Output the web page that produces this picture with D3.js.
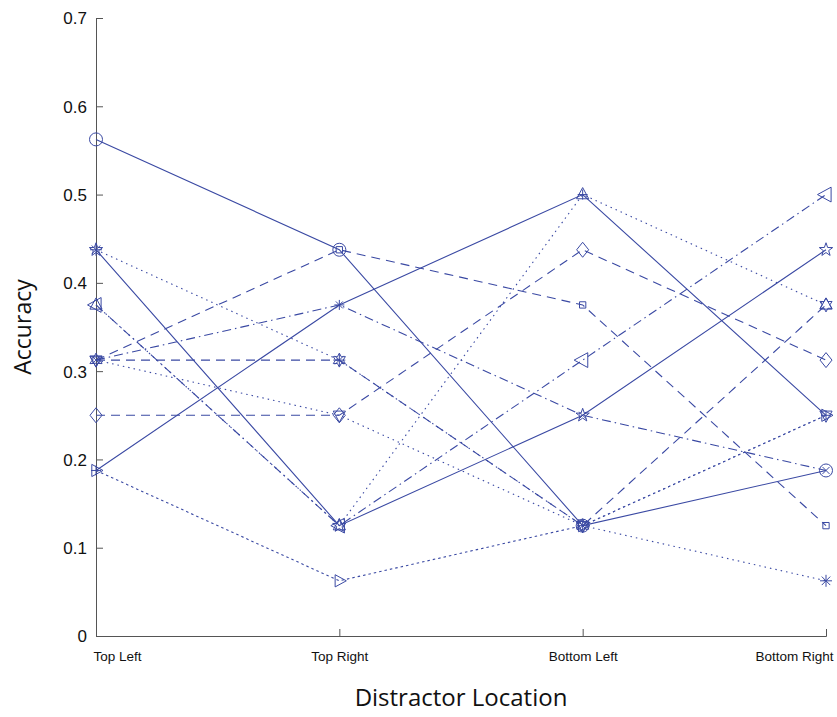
<!DOCTYPE html>
<html lang="en">
<head>
<meta charset="UTF-8">
<title>Accuracy by Distractor Location</title>
<script src="https://d3js.org/d3.v7.min.js"></script>
<style>
    body { margin: 0; background: #fff; }
    svg { display: block; font-family: "Open Sans", "Noto Sans", sans-serif; }
    .axis path, .axis line { stroke: #555; }
</style>
</head>
<body>
<svg id="chart" width="837" height="717"></svg>
<script>
    const categories = ["Top Left", "Top Right", "Bottom Left", "Bottom Right"];
    const yTicks = [0, 0.1, 0.2, 0.3, 0.4, 0.5, 0.6, 0.7];

    // one row per subject: value at each distractor location
    const s1 = [0.5625, 0.4375, 0.125, 0.1875];
    const s2 = [0.4375, 0.125, 0.25, 0.4375];
    const s3 = [0.1875, 0.375, 0.5, 0.25];
    const s4 = [0.4375, 0.3125, 0.125, 0.0625];
    const s5 = [0.3125, 0.4375, 0.375, 0.125];
    const s6 = [0.25, 0.25, 0.4375, 0.3125];
    const s7 = [0.375, 0.125, 0.3125, 0.5];
    const s8 = [0.3125, 0.375, 0.25, 0.1875];
    const s9 = [0.3125, 0.3125, 0.125, 0.375];
    const s10 = [0.3125, 0.25, 0.125, 0.25];
    const s11 = [0.1875, 0.0625, 0.125, 0.25];
    const s12 = [0.375, 0.125, 0.5, 0.375];
    const series = [s1, s2, s3, s4, s5, s6, s7, s8, s9, s10, s11, s12];
    const markers = ["o", "p", "+", "*", "s", "d", "<", "x", "h", "v", ">", "^"];
    const lineStyles = ["-", "-", "-", ":", "--", "--", "-.", "-.", "--", ":", "::", ":"];

    const color = "#3a49a3";
    const svg = d3.select("#chart");
    const margin = { left: 96, right: 11, top: 18, bottom: 81 };
    const W = 837, H = 717;

    const x = d3.scalePoint().domain(categories).range([margin.left, W - margin.right]);
    const y = d3.scaleLinear().domain([0, 0.7]).range([H - margin.bottom, margin.top]);

    // axes (ticks pointing inward like matlab)
    const yAxis = svg.append("g").attr("class", "axis")
        .attr("transform", `translate(${margin.left},0)`)
        .call(d3.axisRight(y).tickValues(yTicks).tickSize(7).tickFormat(""));
    yAxis.selectAll(".tick").append("text")
        .attr("x", -9).attr("dy", "0.35em")
        .attr("text-anchor", "end")
        .attr("fill", "#111").style("font-size", "17px")
        .text(d => d === 0 ? "0" : d3.format(".1f")(d));

    const xAxis = svg.append("g").attr("class", "axis")
        .attr("transform", `translate(0,${y(0)})`)
        .call(d3.axisTop(x).tickSize(7).tickFormat(""));
    xAxis.selectAll(".tick").append("text")
        .attr("y", 25)
        .attr("text-anchor", (d, i) => i === 0 ? "start" : i === categories.length - 1 ? "end" : "middle")
        .attr("dx", (d, i) => i === 0 ? -3 : i === categories.length - 1 ? 7 : 0)
        .attr("fill", "#111").style("font-size", "13.5px")
        .text(d => d);
    svg.selectAll(".axis path.domain").attr("fill", "none");

    svg.append("text")
        .attr("transform", `translate(31,${(y(0) + y(0.7)) / 2}) rotate(-90)`)
        .attr("text-anchor", "middle")
        .style("font-size", "23px").attr("fill", "#111")
        .text("Accuracy");
    svg.append("text")
        .attr("x", (x(categories[0]) + x(categories[3])) / 2)
        .attr("y", 706)
        .attr("text-anchor", "middle")
        .style("font-size", "24px").attr("fill", "#111")
        .text("Distractor Location");

    const dash = { "-": null, ":": "1.5,4", "::": "2.5,3", "--": "9,6", "-.": "9,4,1.5,4" };
    const line = d3.line().x((d, i) => x(categories[i])).y(d => y(d));

    const g = svg.append("g");
    series.forEach((vals, k) => {
        g.append("path")
            .attr("d", line(vals))
            .attr("fill", "none")
            .attr("stroke", color)
            .attr("stroke-width", 1.1)
            .attr("stroke-dasharray", dash[lineStyles[k]]);
    });

    // marker shapes, r = half size
    function markerPath(m, r) {
        const p = d3.path();
        if (m === "o") { p.arc(0, 0, r, 0, 2 * Math.PI); }
        else if (m === "s") { p.rect(-r * 0.7, -r * 0.7, r * 1.4, r * 1.4); }
        else if (m === "d") { p.moveTo(0, -r); p.lineTo(r * 0.8, 0); p.lineTo(0, r); p.lineTo(-r * 0.8, 0); p.closePath(); }
        else if (m === "+") { p.moveTo(-r, 0); p.lineTo(r, 0); p.moveTo(0, -r); p.lineTo(0, r); }
        else if (m === "x") { const a = r * 0.7; p.moveTo(-a, -a); p.lineTo(a, a); p.moveTo(-a, a); p.lineTo(a, -a); }
        else if (m === "*") {
            for (let i = 0; i < 4; i++) {
                const t = i * Math.PI / 4;
                p.moveTo(-r * Math.cos(t), -r * Math.sin(t)); p.lineTo(r * Math.cos(t), r * Math.sin(t));
            }
        }
        else if (m === "^" || m === "v" || m === "<" || m === ">") {
            const rot = { "^": 0, ">": 90, "v": 180, "<": 270 }[m] * Math.PI / 180;
            const pts = [[0, -r], [r * 0.87, r * 0.6], [-r * 0.87, r * 0.6]].map(([a, b]) =>
                [a * Math.cos(rot) - b * Math.sin(rot), a * Math.sin(rot) + b * Math.cos(rot)]);
            p.moveTo(pts[0][0], pts[0][1]); p.lineTo(pts[1][0], pts[1][1]); p.lineTo(pts[2][0], pts[2][1]); p.closePath();
        }
        else if (m === "p" || m === "h") {
            const n = m === "p" ? 5 : 6;
            const inner = m === "p" ? 0.4 : 0.55;
            for (let i = 0; i < 2 * n; i++) {
                const rr = i % 2 === 0 ? r : r * inner;
                const t = -Math.PI / 2 + i * Math.PI / n;
                if (i === 0) p.moveTo(rr * Math.cos(t), rr * Math.sin(t)); else p.lineTo(rr * Math.cos(t), rr * Math.sin(t));
            }
            p.closePath();
        }
        return p.toString();
    }
    const markerSize = { "o": 6.5, "s": 4.5, "d": 7.5, "+": 5, "x": 5, "*": 6, "^": 7, "v": 7, "<": 8.5, ">": 7, "p": 7, "h": 7 };

    series.forEach((vals, k) => {
        g.selectAll(null)
            .data(vals)
            .enter()
            .append("path")
            .attr("transform", (d, i) => `translate(${x(categories[i])},${y(d)})`)
            .attr("d", markerPath(markers[k], markerSize[markers[k]]))
            .attr("fill", "none")
            .attr("stroke", color)
            .attr("stroke-width", 1);
    });
</script>
</body>
</html>
